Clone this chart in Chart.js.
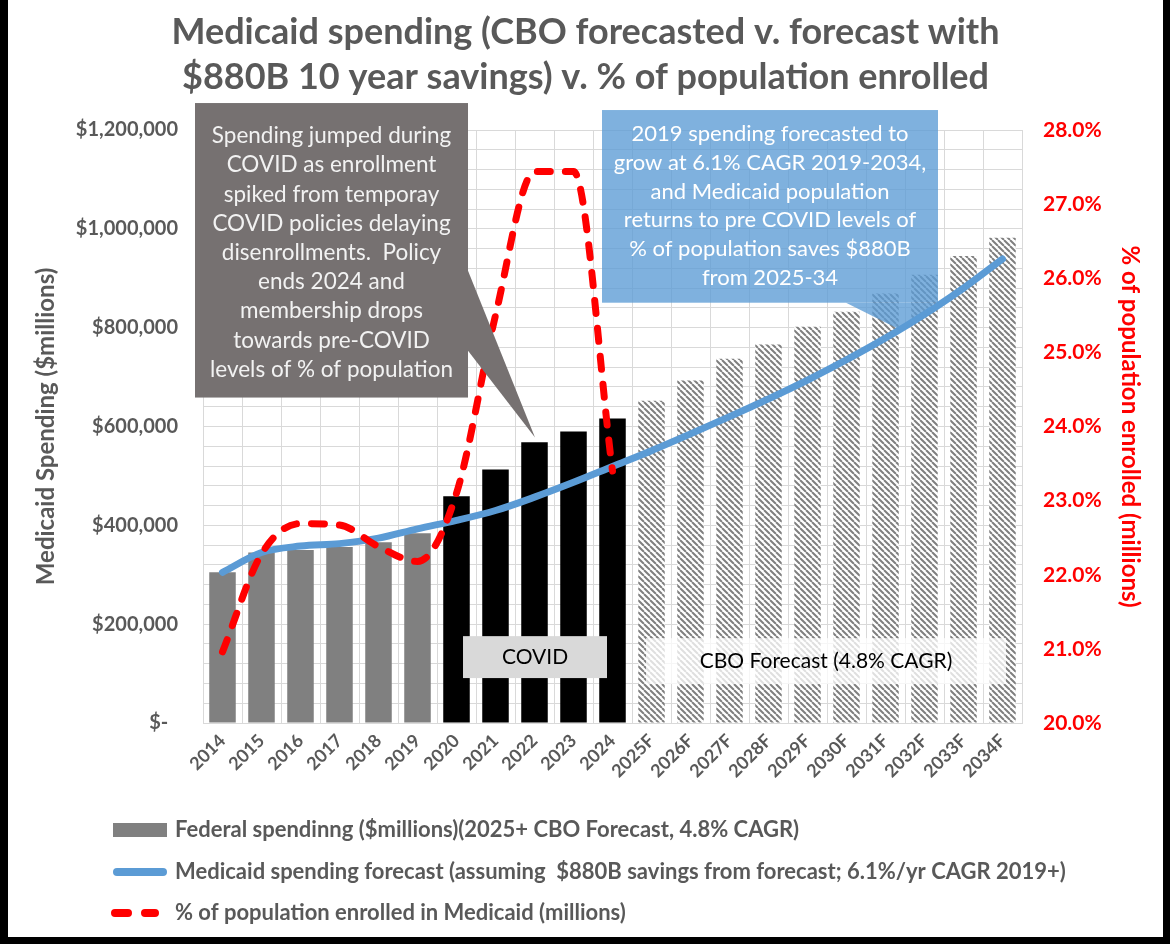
<!DOCTYPE html>
<html>
<head>
<meta charset="utf-8">
<title>Medicaid spending</title>
<script src="https://cdn.jsdelivr.net/npm/chart.js@4.4.1/dist/chart.umd.min.js"></script>
<style>
  html, body { margin: 0; padding: 0; background: #000; }
  #frame { position: absolute; left: 8px; top: 0; width: 1155px; height: 937px; background: #fff; }
  canvas { display: block; }
</style>
</head>
<body>
<div id="frame"><canvas id="chart" width="1155" height="937"></canvas></div>
<script>
/* ── data ─────────────────────────────────────────────────────────── */

const years = ['2014', '2015', '2016', '2017', '2018', '2019', '2020', '2021', '2022', '2023', '2024',
  '2025F', '2026F', '2027F', '2028F', '2029F', '2030F', '2031F', '2032F', '2033F', '2034F'];

// Federal spending ($millions), bars
const federalSpending = [305000, 345000, 350000, 356000, 366000, 384000, 459000, 513000, 568000, 590000, 616000,
  652000, 693000, 737000, 766000, 802000, 832000, 869000, 907000, 945000, 982000];

// Medicaid spending forecast ($millions), blue line
const medicaidForecast = [305000, 345000, 358000, 363000, 374000, 393000, 410000, 430000, 457000, 487000, 519000,
  551000, 585000, 620000, 656000, 694000, 735000, 779000, 827000, 880000, 939000];

// % of population enrolled, red dashed line (ends 2024)
const enrolledPct = [20.96, 22.28, 22.69, 22.67, 22.38, 22.18, 23.1, 25.5, 27.44, 27.44, 23.4,
  null, null, null, null, null, null, null, null, null, null];

const titleLines = ['Medicaid spending (CBO forecasted v. forecast with', '$880B 10 year savings) v. % of population enrolled'];

const legendLabels = [
  'Federal spendinng ($millions)(2025+ CBO Forecast, 4.8% CAGR)',
  'Medicaid spending forecast (assuming  $880B savings from forecast; 6.1%/yr CAGR 2019+)',
  '% of population enrolled in Medicaid (millions)',
];

const covidNote = ['Spending jumped during', 'COVID as enrollment', 'spiked from temporay', 'COVID policies delaying',
  'disenrollments.  Policy', 'ends 2024 and', 'membership drops', 'towards pre-COVID', 'levels of % of population'];

const forecastNote = ['2019 spending forecasted to', 'grow at 6.1% CAGR 2019-2034,', 'and Medicaid population',
  'returns to pre COVID levels of', '% of population saves $880B', 'from 2025-34'];

/* ── styling ──────────────────────────────────────────────────────── */

const FONT   = 'Lato, "Open Sans", sans-serif';
const GREY   = '#595959';
const GRID   = '#d9d9d9';
const BLUE   = '#5b9bd5';
const RED    = '#ff0000';
const FIRST_COVID = 6;     // 2020
const FIRST_FORECAST = 11; // 2025F

Chart.defaults.font.family = FONT;

function makeHatch() {
  const c = document.createElement('canvas');
  c.width = 6; c.height = 6;
  const g = c.getContext('2d');
  g.fillStyle = '#fff';
  g.fillRect(0, 0, 6, 6);
  g.strokeStyle = '#7f7f7f';
  g.lineWidth = 2;
  g.beginPath();
  for (const k of [-6, 0, 6]) { g.moveTo(k, 0); g.lineTo(k + 6, 6); }
  g.stroke();
  return g.createPattern(c, 'repeat');
}
const hatch = makeHatch();

const barColors = years.map((_, i) => i < FIRST_COVID ? '#808080' : i < FIRST_FORECAST ? '#000000' : hatch);

const fmtDollar = v => v === 0 ? '$-  ' : '$' + v.toLocaleString('en-US');

// ── annotation boxes, in (category index, $ value) coordinates ─────

const callouts = {
  id: 'callouts',
  afterDatasetsDraw(chart) {
    const { ctx, scales: { x, y } } = chart;
    const X = v => x.getPixelForValue(v);
    const Y = v => y.getPixelForValue(v);

    const rect = (i0, v0, i1, v1, fill) => {
      ctx.fillStyle = fill;
      ctx.fillRect(X(i0), Y(v0), X(i1) - X(i0), Y(v1) - Y(v0));
    };
    const wedge = (pts, fill) => {
      ctx.fillStyle = fill;
      ctx.beginPath();
      pts.forEach(([i, v], k) => k ? ctx.lineTo(X(i), Y(v)) : ctx.moveTo(X(i), Y(v)));
      ctx.closePath();
      ctx.fill();
    };
    const lines = (txt, cx, y0, step, font, color) => {
      ctx.font = font;
      ctx.fillStyle = color;
      ctx.textAlign = 'center';
      ctx.textBaseline = 'middle';
      txt.forEach((t, k) => ctx.fillText(t, cx, y0 + k * step));
    };

    ctx.save();

    // grey COVID callout
    rect(-0.705, 1254545, 6.295, 658586, '#767171');
    wedge([[6.295, 915152], [8.013, 577778], [6.295, 753535]], '#767171');
    lines(covidNote, (X(-0.705) + X(6.295)) / 2, Y(1254545) + 33, 29.2, '22.5px ' + FONT, '#f2f2f2');

    // blue forecast callout
    const blueFill = 'rgba(91,155,213,0.78)';
    rect(9.731, 1240404, 18.346, 850505, blueFill);
    wedge([[15.987, 850505], [17.423, 793939], [18.269, 850505]], blueFill);
    lines(forecastNote, (X(9.731) + X(18.346)) / 2, Y(1240404) + 24, 28.7, '22px ' + FONT, '#ffffff');

    // period labels
    rect(6.167, 175758, 9.859, 90909, '#d9d9d9');
    lines(['COVID'], (X(6.167) + X(9.859)) / 2, (Y(175758) + Y(90909)) / 2, 0, '21px ' + FONT, '#000');
    rect(10.859, 171717, 20.09, 78788, 'rgba(255,255,255,0.75)');
    lines(['CBO Forecast (4.8% CAGR)'], (X(10.859) + X(20.09)) / 2, (Y(171717) + Y(78788)) / 2, 0, '21px ' + FONT, '#000');

    ctx.restore();
  },
};

// ── legend rows under the axis ────────────────────────────────────

const legendRows = {
  id: 'legendRows',
  afterDraw(chart) {
    const { ctx, chartArea } = chart;
    const rowY = [107, 149, 190].map(d => chartArea.bottom + d);
    const sx = 105, tx = 167;
    ctx.save();
    ctx.fillStyle = '#808080';
    ctx.fillRect(sx, rowY[0] - 7, 54, 14);

    ctx.lineCap = 'round';
    ctx.lineWidth = 8;
    ctx.strokeStyle = BLUE;
    ctx.beginPath(); ctx.moveTo(sx + 4, rowY[1]); ctx.lineTo(sx + 50, rowY[1]); ctx.stroke();

    ctx.strokeStyle = RED;
    ctx.beginPath();
    ctx.moveTo(sx + 2, rowY[2]); ctx.lineTo(sx + 15, rowY[2]);
    ctx.moveTo(sx + 32, rowY[2]); ctx.lineTo(sx + 42, rowY[2]);
    ctx.stroke();

    ctx.font = 'bold 22px ' + FONT;
    ctx.fillStyle = GREY;
    ctx.textAlign = 'left';
    ctx.textBaseline = 'middle';
    legendLabels.forEach((t, k) => ctx.fillText(t, tx, rowY[k]));
    ctx.restore();
  },
};

// ── chart ─────────────────────────────────────────────────────────

new Chart(document.getElementById('chart'), {
  type: 'bar',
  data: {
    labels: years,
    datasets: [
      {
        type: 'line',
        label: legendLabels[2],
        data: enrolledPct,
        yAxisID: 'y1',
        order: 0,
        borderColor: RED,
        borderWidth: 7,
        borderDash: [13, 15],
        borderCapStyle: 'round',
        pointRadius: 0,
        cubicInterpolationMode: 'monotone',
        spanGaps: false,
      },
      {
        type: 'line',
        label: legendLabels[1],
        data: medicaidForecast,
        yAxisID: 'y',
        order: 1,
        borderColor: BLUE,
        borderWidth: 7,
        borderCapStyle: 'round',
        borderJoinStyle: 'round',
        pointRadius: 0,
        cubicInterpolationMode: 'monotone',
      },
      {
        label: legendLabels[0],
        data: federalSpending,
        yAxisID: 'y',
        order: 2,
        backgroundColor: barColors,
        barPercentage: 0.68,
        categoryPercentage: 1,
      },
    ],
  },
  options: {
    responsive: false,
    animation: false,
    events: [],
    layout: { padding: 0 },
    plugins: {
      legend: { display: false },
      tooltip: { enabled: false },
      title: {
        display: true,
        text: titleLines,
        color: GREY,
        font: { size: 36, weight: 'bold', lineHeight: '45px' },
        padding: { top: 10, bottom: 30 },
      },
    },
    scales: {
      x: {
        afterFit: s => { s.height = 214; },
        grid: { color: GRID, offset: true, drawTicks: false },
        border: { color: GRID },
        ticks: {
          color: GREY,
          font: { size: 18, weight: 'bold' },
          minRotation: 45,
          maxRotation: 45,
          autoSkip: false,
          padding: 7,
        },
      },
      y: {
        position: 'left',
        min: 0,
        max: 1200000,
        afterFit: s => { s.width = 195; },
        grid: { color: GRID, drawTicks: false },
        border: { color: GRID },
        ticks: {
          stepSize: 40000,
          autoSkip: false,
          padding: 25,
          color: GREY,
          font: { size: 20, weight: 'bold' },
          callback: v => v % 200000 === 0 ? fmtDollar(v) : '',
        },
        title: {
          display: true,
          text: 'Medicaid Spending ($millions)',
          color: GREY,
          font: { size: 24, weight: 'bold', lineHeight: 1.2 },
          padding: { top: 24, bottom: 0 },
        },
      },
      y1: {
        position: 'right',
        min: 20,
        max: 28,
        afterFit: s => { s.width = 141; },
        grid: { display: false, drawTicks: false },
        border: { display: false },
        ticks: {
          stepSize: 1,
          padding: 21,
          color: RED,
          font: { size: 21, weight: 'bold' },
          callback: v => v.toFixed(1) + '%',
        },
        title: {
          display: true,
          text: '% of population enrolled (millions)',
          color: RED,
          font: { size: 24, weight: 'bold', lineHeight: 1.2 },
          padding: { top: 19, bottom: 0 },
        },
      },
    },
  },
  plugins: [callouts, legendRows],
});
</script>
</body>
</html>
